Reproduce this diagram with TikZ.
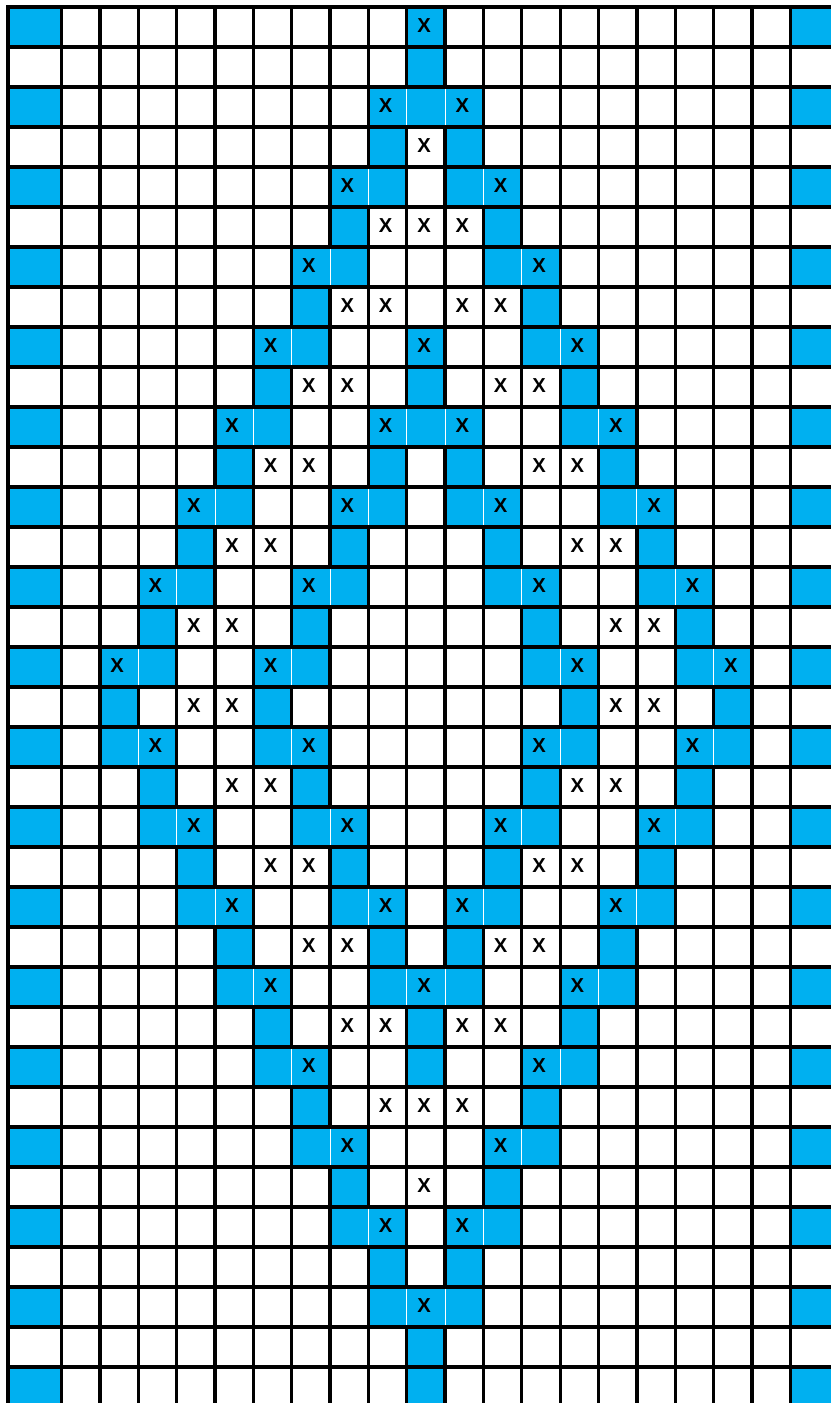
\documentclass[tikz,border=0pt]{standalone}
\usepackage{fontspec}
\setmainfont{Liberation Sans}
\definecolor{chartblue}{HTML}{00B0F0}

\begin{document}
\begin{tikzpicture}[
        x=0.02cm, y=-0.02cm,
        cellfill/.style={fill=chartblue},
        gridline/.style={draw=black, line width=1.9pt, line cap=rect},
        seam/.style={draw=white, line width=0.5pt},
        xmark/.style={font=\bfseries\fontsize{11.5}{12}\selectfont, inner sep=0pt}
    ]
        \useasboundingbox (0,0) rectangle (831,1403);
        \clip (0,0) rectangle (831,1403);
        \fill[white] (0,0) rectangle (831,1403);

        \foreach \r in {0,2,...,34} {
            \fill[cellfill] (8,{7+40*\r}) rectangle (61.5,{47+40*\r});
            \fill[cellfill] (790.3,{7+40*\r}) rectangle (840,{47+40*\r});
        }

        \foreach \r/\cells in {0/{10}, 1/{10}, 2/{9,10,11}, 3/{9,11}, 4/{8,9,11,12}, 5/{8,12},
                6/{7,8,12,13}, 7/{7,13}, 8/{6,7,10,13,14}, 9/{6,10,14}, 10/{5,6,9,10,11,14,15},
                11/{5,9,11,15}, 12/{4,5,8,9,11,12,15,16}, 13/{4,8,12,16}, 14/{3,4,7,8,12,13,16,17},
                15/{3,7,13,17}, 16/{2,3,6,7,13,14,17,18}, 17/{2,6,14,18}, 18/{2,3,6,7,13,14,17,18},
                19/{3,7,13,17}, 20/{3,4,7,8,12,13,16,17}, 21/{4,8,12,16}, 22/{4,5,8,9,11,12,15,16},
                23/{5,9,11,15}, 24/{5,6,9,10,11,14,15}, 25/{6,10,14}, 26/{6,7,10,13,14}, 27/{7,13},
                28/{7,8,12,13}, 29/{8,12}, 30/{8,9,11,12}, 31/{9,11}, 32/{9,10,11}, 33/{10}, 34/{10}} {
            \foreach \c in \cells
                \fill[cellfill] ({61.5+(\c-1)*38.36},{7+40*\r}) rectangle ({61.5+\c*38.36},{47+40*\r});
        }

        \foreach \r in {0,...,34}
            \draw[gridline] (8,{7+40*\r}) -- (840,{7+40*\r});
        \draw[gridline] (8,7) -- (8,1410);
        \foreach \k in {0,...,19}
            \draw[gridline] ({61.5+\k*38.36},7) -- ({61.5+\k*38.36},1410);

        \foreach \r/\cells in {2/{9,10}, 4/{8,11}, 6/{7,12}, 8/{6,13}, 10/{5,9,10,14}, 12/{4,8,11,15},
                14/{3,7,12,16}, 16/{2,6,13,17}, 18/{2,6,13,17}, 20/{3,7,12,16}, 22/{4,8,11,15},
                24/{5,9,10,14}, 26/{6,13}, 28/{7,12}, 30/{8,11}, 32/{9,10}} {
            \foreach \c in \cells {
                \fill[cellfill] ({61.5+\c*38.36-2.2},{8.8+40*\r}) rectangle ({61.5+\c*38.36+2.2},{45.2+40*\r});
                \draw[seam] ({61.5+\c*38.36},{8.8+40*\r}) -- ({61.5+\c*38.36},{45.2+40*\r});
            }
        }

        \foreach \r/\cells in {0/{10}, 2/{9,11}, 3/{10}, 4/{8,12}, 5/{9,10,11}, 6/{7,13}, 7/{8,9,11,12},
                8/{6,10,14}, 9/{7,8,12,13}, 10/{5,9,11,15}, 11/{6,7,13,14}, 12/{4,8,12,16},
                13/{5,6,14,15}, 14/{3,7,13,17}, 15/{4,5,15,16}, 16/{2,6,14,18}, 17/{4,5,15,16},
                18/{3,7,13,17}, 19/{5,6,14,15}, 20/{4,8,12,16}, 21/{6,7,13,14}, 22/{5,9,11,15},
                23/{7,8,12,13}, 24/{6,10,14}, 25/{8,9,11,12}, 26/{7,13}, 27/{9,10,11}, 28/{8,12},
                29/{10}, 30/{9,11}, 32/{10}} {
            \foreach \c in \cells
                \node[xmark] (x-\r-\c) at ({61.5+(\c-0.55)*38.36},{25.5+40*\r}) {X};
        }
\end{tikzpicture}
\end{document}
